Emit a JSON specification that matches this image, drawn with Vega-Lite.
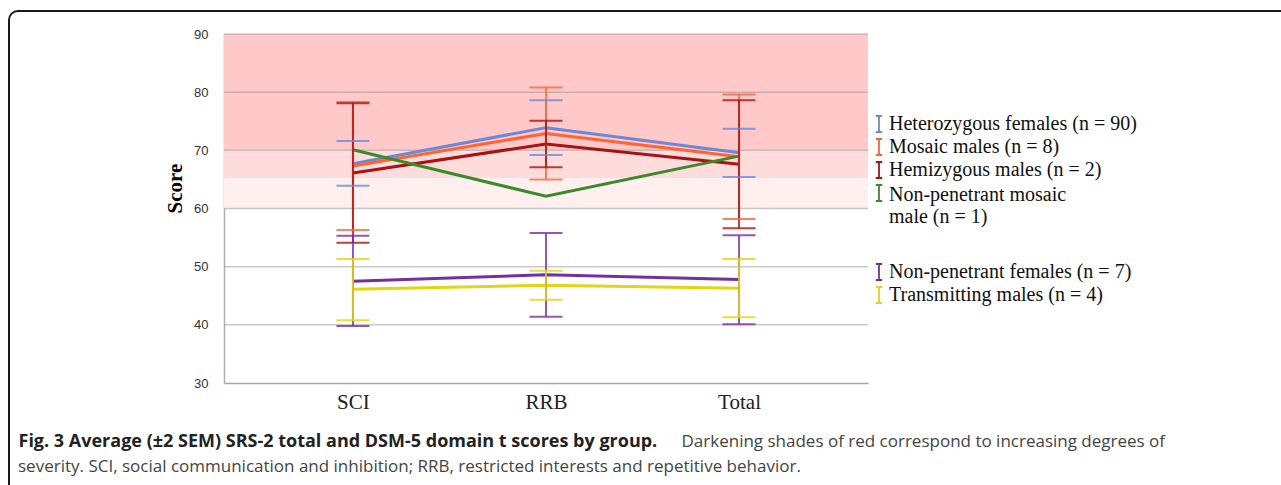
{
  "$schema": "https://vega.github.io/schema/vega-lite/v6.json",
  "width": 1292,
  "height": 494,
  "autosize": {"type": "none"},
  "padding": {"left": 9, "top": 11, "right": -20, "bottom": -20},
  "background": "white",
  "config": {
    "view": {"stroke": "#1a1a1a", "strokeWidth": 2, "cornerRadius": 9},
    "font": "Liberation Sans"
  },
  "title": {
    "text": "severity. SCI, social communication and inhibition; RRB, restricted interests and repetitive behavior.",
    "orient": "bottom",
    "anchor": "start",
    "frame": "group",
    "offset": -38,
    "dx": 9,
    "baseline": "middle",
    "font": "Open Sans",
    "fontSize": 17,
    "fontWeight": "normal",
    "color": "#444444"
  },
  "datasets": {
    "bands": [
      {"level": "Severe", "lo": 70, "hi": 90},
      {"level": "Moderate", "lo": 65.2, "hi": 70},
      {"level": "Mild", "lo": 60, "hi": 65.2}
    ],
    "grid": [{"v": 40}, {"v": 50}, {"v": 60}, {"v": 70}, {"v": 80}, {"v": 90}],
    "scores": [
      {"group": "Heterozygous females (n = 90)", "domain": "SCI", "mean": 67.7, "lo": 63.9, "hi": 71.6},
      {"group": "Heterozygous females (n = 90)", "domain": "RRB", "mean": 73.9, "lo": 69.2, "hi": 78.6},
      {"group": "Heterozygous females (n = 90)", "domain": "Total", "mean": 69.6, "lo": 65.4, "hi": 73.7},
      {"group": "Mosaic males (n = 8)", "domain": "SCI", "mean": 67.3, "lo": 56.3, "hi": 78.3},
      {"group": "Mosaic males (n = 8)", "domain": "RRB", "mean": 72.9, "lo": 65.0, "hi": 80.8},
      {"group": "Mosaic males (n = 8)", "domain": "Total", "mean": 68.9, "lo": 58.2, "hi": 79.6},
      {"group": "Hemizygous males (n = 2)", "domain": "SCI", "mean": 66.1, "lo": 54.1, "hi": 78.1},
      {"group": "Hemizygous males (n = 2)", "domain": "RRB", "mean": 71.1, "lo": 67.1, "hi": 75.1},
      {"group": "Hemizygous males (n = 2)", "domain": "Total", "mean": 67.6, "lo": 56.6, "hi": 78.6},
      {"group": "Non-penetrant mosaic male (n = 1)", "domain": "SCI", "mean": 70.1, "lo": null, "hi": null},
      {"group": "Non-penetrant mosaic male (n = 1)", "domain": "RRB", "mean": 62.1, "lo": null, "hi": null},
      {"group": "Non-penetrant mosaic male (n = 1)", "domain": "Total", "mean": 69.0, "lo": null, "hi": null},
      {"group": "Non-penetrant females (n = 7)", "domain": "SCI", "mean": 47.5, "lo": 39.8, "hi": 55.3},
      {"group": "Non-penetrant females (n = 7)", "domain": "RRB", "mean": 48.6, "lo": 41.4, "hi": 55.8},
      {"group": "Non-penetrant females (n = 7)", "domain": "Total", "mean": 47.8, "lo": 40.1, "hi": 55.4},
      {"group": "Transmitting males (n = 4)", "domain": "SCI", "mean": 46.1, "lo": 40.8, "hi": 51.3},
      {"group": "Transmitting males (n = 4)", "domain": "RRB", "mean": 46.8, "lo": 44.3, "hi": 49.3},
      {"group": "Transmitting males (n = 4)", "domain": "Total", "mean": 46.3, "lo": 41.3, "hi": 51.3}
    ]
  },
  "layer": [
    {
      "encoding": {
        "x": {
          "datum": 0,
          "type": "quantitative",
          "scale": {"domain": [0, 1], "range": [215, 859]},
          "axis": {
            "orient": "top",
            "title": "Fig. 3 Average (±2 SEM) SRS-2 total and DSM-5 domain t scores by group.",
            "labels": false,
            "ticks": false,
            "domain": false,
            "grid": false,
            "titleX": 9,
            "titleY": 430,
            "titleAlign": "left",
            "titleAnchor": null,
            "titleBaseline": "middle",
            "titleFont": "Open Sans",
            "titleFontWeight": "bold",
            "titleFontSize": 18,
            "titleColor": "#222222"
          }
        },
        "x2": {"datum": 1}
      },
      "layer": [
        {
          "data": {"name": "bands"},
          "mark": {"type": "rect"},
          "encoding": {
            "y": {"field": "lo", "type": "quantitative"},
            "y2": {"field": "hi"},
            "color": {
              "field": "level",
              "type": "nominal",
              "scale": {"domain": ["Severe", "Moderate", "Mild"], "range": ["#FFC9C9", "#FFDCDC", "#FFEFEF"]},
              "legend": null
            }
          }
        },
        {
          "data": {"name": "grid"},
          "mark": {"type": "rule", "color": "#8a8a8a", "opacity": 0.45, "strokeWidth": 1.5},
          "encoding": {
            "y": {"field": "v", "type": "quantitative"}
          }
        }
      ]
    },
    {
      "data": {"name": "scores"},
      "encoding": {
        "x": {
          "field": "domain",
          "type": "nominal",
          "sort": ["SCI", "RRB", "Total"],
          "scale": {"type": "point", "range": [215, 859], "padding": 0.668},
          "axis": {
            "orient": "bottom",
            "offset": -122,
            "labelAngle": 0,
            "labelFont": "Liberation Serif",
            "labelFontSize": 21,
            "labelColor": "#222222",
            "labelPadding": 8,
            "ticks": false,
            "grid": false,
            "domainColor": "#a8a8a8",
            "domainWidth": 1.5,
            "title": "Darkening shades of red correspond to increasing degrees of",
            "titleX": 672,
            "titleY": 58,
            "titleAlign": "left",
            "titleAnchor": null,
            "titleBaseline": "middle",
            "titleFont": "Open Sans",
            "titleFontWeight": "normal",
            "titleFontSize": 17,
            "titleColor": "#444444"
          }
        }
      },
      "layer": [
        {
          "transform": [{"filter": {"field": "group", "oneOf": ["Heterozygous females (n = 90)", "Mosaic males (n = 8)", "Hemizygous males (n = 2)", "Non-penetrant mosaic male (n = 1)"]}}],
          "encoding": {
            "color": {
              "field": "group",
              "type": "nominal",
              "scale": {
                "domain": ["Heterozygous females (n = 90)", "Mosaic males (n = 8)", "Hemizygous males (n = 2)", "Non-penetrant mosaic male (n = 1)"],
                "range": ["#6F87D6", "#FF6432", "#A81212", "#3A8A2B"]
              },
              "legend": {
                "orient": "none",
                "legendX": 860,
                "legendY": 103,
                "title": null,
                "padding": 0,
                "symbolType": "M-0.4,-1H0.4M0,-1V1M-0.4,1H0.4",
                "symbolSize": 256,
                "symbolStrokeWidth": 1.8,
                "labelFont": "Liberation Serif",
                "labelFontSize": 20,
                "labelColor": "#111111",
                "labelLimit": 400,
                "labelOffset": 0,
                "rowPadding": -1,
                "labelExpr": "datum.label == 'Non-penetrant mosaic male (n = 1)' ? ['Non-penetrant mosaic', 'male (n = 1)'] : datum.label",
                "symbolOpacity": 1,
                "symbolFillColor": "transparent",
                "encode": {
                  "labels": {
                    "update": {
                      "dy": {"signal": "datum.label == 'Non-penetrant mosaic male (n = 1)' ? 2 : 0"}
                    }
                  }
                }
              }
            }
          },
          "layer": [
            {
              "mark": {"type": "line", "strokeWidth": 3},
              "encoding": {
                "order": {"value": null},
                "y": {
                  "field": "mean",
                  "type": "quantitative",
                  "scale": {"domain": [30, 90], "range": [372, 23], "nice": false, "zero": false},
                  "axis": {
                    "orient": "left",
                    "offset": -215,
                    "values": [30, 40, 50, 60, 70, 80, 90],
                    "grid": false,
                    "ticks": false,
                    "labelPadding": 16,
                    "labelFont": "Liberation Sans",
                    "labelFontSize": 13,
                    "labelColor": "#333333",
                    "domainColor": "#b0b0b0",
                    "domainWidth": 1.5,
                    "title": "Score",
                    "titleFont": "Liberation Serif",
                    "titleFontWeight": "bold",
                    "titleFontSize": 21,
                    "titleColor": "#000000",
                    "titleAngle": 270,
                    "titleX": -49,
                    "titleY": 177,
                    "titleAlign": "center",
                    "titleBaseline": "middle"
                  }
                }
              }
            },
            {
              "mark": {"type": "rule", "strokeWidth": 2, "opacity": 0.8},
              "encoding": {"y": {"field": "lo", "type": "quantitative"}, "y2": {"field": "hi"}}
            },
            {
              "mark": {"type": "tick", "orient": "horizontal", "size": 33, "thickness": 2, "opacity": 0.8},
              "encoding": {"y": {"field": "lo", "type": "quantitative"}}
            },
            {
              "mark": {"type": "tick", "orient": "horizontal", "size": 33, "thickness": 2, "opacity": 0.8},
              "encoding": {"y": {"field": "hi", "type": "quantitative"}}
            }
          ]
        },
        {
          "transform": [{"filter": {"field": "group", "oneOf": ["Non-penetrant females (n = 7)", "Transmitting males (n = 4)"]}}],
          "encoding": {
            "color": {
              "field": "group",
              "type": "nominal",
              "scale": {
                "domain": ["Non-penetrant females (n = 7)", "Transmitting males (n = 4)"],
                "range": ["#7430A2", "#E3D50E"]
              },
              "legend": {
                "orient": "none",
                "legendX": 860,
                "legendY": 251,
                "title": null,
                "padding": 0,
                "symbolType": "M-0.4,-1H0.4M0,-1V1M-0.4,1H0.4",
                "symbolSize": 256,
                "symbolStrokeWidth": 1.8,
                "labelFont": "Liberation Serif",
                "labelFontSize": 20,
                "labelColor": "#111111",
                "labelLimit": 400,
                "labelOffset": 0,
                "rowPadding": -1,
                "symbolOpacity": 1,
                "symbolFillColor": "transparent"
              }
            }
          },
          "layer": [
            {
              "mark": {"type": "line", "strokeWidth": 3},
              "encoding": {"order": {"value": null}, "y": {"field": "mean", "type": "quantitative"}}
            },
            {
              "mark": {"type": "rule", "strokeWidth": 2, "opacity": 0.8},
              "encoding": {"y": {"field": "lo", "type": "quantitative"}, "y2": {"field": "hi"}}
            },
            {
              "mark": {"type": "tick", "orient": "horizontal", "size": 33, "thickness": 2, "opacity": 0.8},
              "encoding": {"y": {"field": "lo", "type": "quantitative"}}
            },
            {
              "mark": {"type": "tick", "orient": "horizontal", "size": 33, "thickness": 2, "opacity": 0.8},
              "encoding": {"y": {"field": "hi", "type": "quantitative"}}
            }
          ]
        }
      ],
      "resolve": {"scale": {"color": "independent"}, "legend": {"color": "independent"}}
    }
  ],
  "resolve": {"scale": {"x": "independent", "color": "independent"}, "axis": {"x": "independent"}}
}
